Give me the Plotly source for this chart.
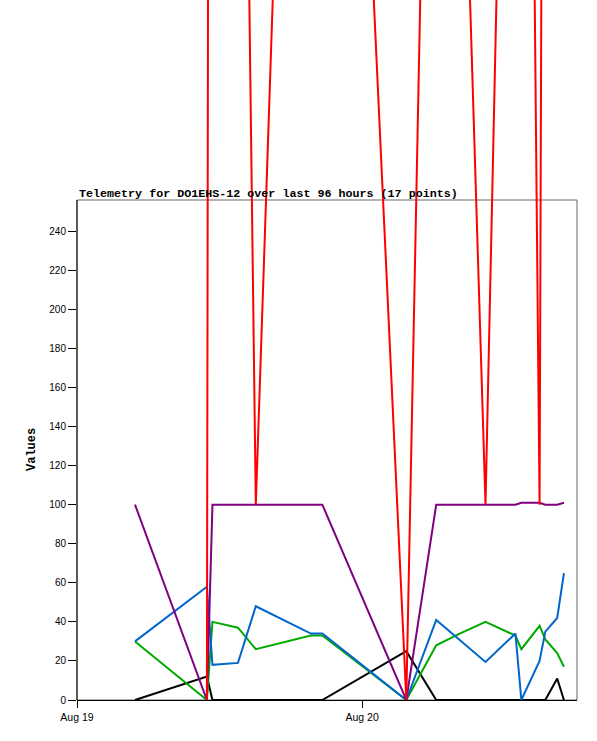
import plotly.graph_objects as go

# telemetry samples (17 points)
times = [
    '2024-08-19 04:53', '2024-08-19 10:56', '2024-08-19 11:24', '2024-08-19 13:33',
    '2024-08-19 15:03', '2024-08-19 19:41', '2024-08-19 20:39', '2024-08-20 03:43',
    '2024-08-20 06:14', '2024-08-20 08:13', '2024-08-20 10:23', '2024-08-20 12:54',
    '2024-08-20 13:24', '2024-08-20 14:56', '2024-08-20 15:25', '2024-08-20 16:25',
    '2024-08-20 16:59',
]
ch_black = [0, 12, 0, 0, 0, 0, 0, 25, 0, 0, 0, 0, 0, 0, 0, 11, 0]
ch_green = [30, 0, 40, 37, 26, 33, 33, 0, 28, 34, 40, 33, 26, 38, 31, 24, 17]
ch_blue = [30, 58, 18, 19, 48, 34, 34, 0, 41, 30.5, 19.5, 34, 0, 20, 35, 42, 65]
ch_purple = [100, 0, 100, 100, 100, 100, 100, 0, 100, 100, 100, 100, 101, 101, 100, 100, 101]
ch_red = [None, 0, 1800, 810, 100, 940, 925, 0, 770, 530, 100, 807, 1070, 100, 960, 1000, 990]

y_ticks = list(range(0, 241, 20))
x_ticks = ['2024-08-19', '2024-08-20']
x_ticktext = ['Aug 19', 'Aug 20']
title = 'Telemetry for DO1EHS-12 over last 96 hours (17 points)'

series = [
    (ch_black, '#000000'),
    (ch_green, '#00aa00'),
    (ch_blue, '#0066cc'),
    (ch_purple, '#800080'),
    (ch_red, '#ff0000'),
]

# plot box is 500px for 0..256, y domain spans the full height so the
# red channel runs off the top like in the original
y_top = 256 * 700 / 500.0

fig = go.Figure()
for vals, col in series:
    fig.add_trace(go.Scatter(x=times, y=vals, mode='lines',
                             line=dict(color=col, width=2),
                             connectgaps=False, showlegend=False))

fig.update_xaxes(type='date', range=['2024-08-19 00:00', '2024-08-20 18:05'],
                 tickvals=x_ticks, ticktext=x_ticktext,
                 ticks='outside', ticklen=7, tickcolor='black',
                 showline=True, linecolor='black', linewidth=1,
                 showgrid=False, zeroline=False,
                 tickfont=dict(family='Liberation Sans', size=10.5, color='black'))
fig.update_yaxes(range=[0, y_top], tickvals=y_ticks,
                 ticks='outside', ticklen=8, tickcolor='black',
                 showline=False, showgrid=False, zeroline=False,
                 tickfont=dict(family='Liberation Sans', size=10, color='black'))

# frame: gray top/right, black left
fig.add_shape(type='rect', xref='paper', yref='y', x0=0, x1=1, y0=0, y1=256,
              line=dict(color='#666666', width=1), layer='below')
fig.add_shape(type='line', xref='paper', yref='y', x0=0, x1=0, y0=0, y1=256,
              line=dict(color='black', width=1))

fig.add_annotation(text='<b>' + title + '</b>', xref='paper', yref='y',
                   x=0, y=259, xanchor='left', yanchor='middle', showarrow=False,
                   font=dict(family='Liberation Mono', size=11.7, color='black'))
fig.add_annotation(text='<b>Values</b>', xref='paper', yref='y',
                   x=-45 / 500.0, y=128, textangle=-90, showarrow=False,
                   xanchor='center', yanchor='middle',
                   font=dict(family='Liberation Mono', size=12, color='black'))

fig.update_layout(width=597, height=741, autosize=False,
                  margin=dict(l=77, r=20, t=0, b=41),
                  plot_bgcolor='white', paper_bgcolor='white')

# drop the default page margin so the figure sits at the window corner
fig.write_html('out.html', config={'displayModeBar': False},
               post_script="document.body.style.margin='0px';")
